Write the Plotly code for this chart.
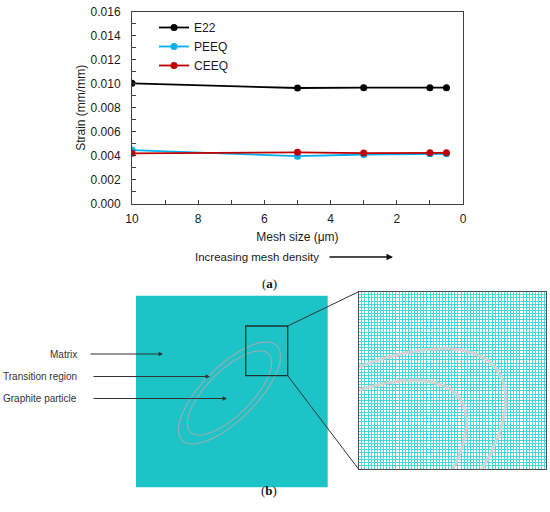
import numpy as np
import plotly.graph_objects as go

W, H = 550, 512

# (a) mesh convergence data
mesh_size = [10, 5, 3, 1, 0.5]
e22 = [0.01004, 0.00965, 0.00968, 0.00968, 0.00968]
peeq = [0.00449, 0.00398, 0.00412, 0.00418, 0.00418]
ceeq = [0.00422, 0.00430, 0.00424, 0.00426, 0.00426]

series_names = ["E22", "PEEQ", "CEEQ"]
series_colors = ["#000000", "#00B0F0", "#C00000"]

x_ticks = [10, 8, 6, 4, 2, 0]
y_ticks = [0.000, 0.002, 0.004, 0.006, 0.008, 0.010, 0.012, 0.014, 0.016]

FONT = "Liberation Sans, Arial, sans-serif"
SERIF = "Liberation Serif, Times New Roman, serif"


def px(x):
    return x / W


def py(y):
    return 1 - y / H


fig = go.Figure()

for name, vals, col in zip(series_names, [e22, peeq, ceeq], series_colors):
    fig.add_trace(go.Scatter(
        x=mesh_size, y=vals, name=name, mode="lines+markers",
        line=dict(color=col, width=1.8),
        marker=dict(color=col, size=7),
        xaxis="x", yaxis="y", hoverinfo="skip",
    ))

# (b) mesh illustration, drawn in pixel coordinates
sq = dict(x0=136, x1=327.7, y0=295.7, y1=487.3)      # left model
zoom_box = dict(x0=245.7, x1=287.7, y0=326, y1=375.7)  # box drawn on the model
view = dict(x0=247.5, x1=289.5, y0=326, y1=375.7)      # region shown enlarged
right = dict(x0=358.7, x1=545.7, y0=291.7, y1=469.3)  # enlarged mesh

# particle outline (outer = transition region, inner = graphite)
cx, cy, theta = 229.5, 393, np.radians(45)
t = np.linspace(0, 2 * np.pi, 500)
ellipses = []
for a, b in [(67, 26.9), (55.4, 22.3)]:
    ex = cx + a * np.cos(t) * np.cos(theta) + b * np.sin(t) * np.sin(theta)
    ey = cy - a * np.cos(t) * np.sin(theta) + b * np.sin(t) * np.cos(theta)
    ellipses.append((ex, ey))

for ex, ey in ellipses:
    fig.add_trace(go.Scatter(x=ex, y=ey, mode="lines", showlegend=False,
                             line=dict(color="rgba(160,172,172,0.95)", width=1.1),
                             xaxis="x2", yaxis="y2", hoverinfo="skip"))
    fig.add_trace(go.Scatter(x=ex, y=ey, mode="lines", showlegend=False,
                             line=dict(color="#d2d2d2", width=3),
                             xaxis="x3", yaxis="y3", hoverinfo="skip"))

pitch = 3.1
nx = (right["x1"] - right["x0"]) / pitch
ny = (right["y1"] - right["y0"]) / pitch
dx_grid = (view["x1"] - view["x0"]) / nx
dy_grid = (view["y1"] - view["y0"]) / ny

axis_off = dict(showticklabels=False, ticks="", zeroline=False)

fig.update_layout(
    width=W, height=H,
    margin=dict(l=0, r=0, t=0, b=0),
    paper_bgcolor="white", plot_bgcolor="white",
    font=dict(family=FONT, size=12, color="#1a1a1a"),
    showlegend=True,
    legend=dict(x=px(154), y=py(13), xanchor="left", yanchor="top",
                bgcolor="rgba(0,0,0,0)", font=dict(size=12),
                itemwidth=30),
    xaxis=dict(
        domain=[px(132), px(463)], range=[10, 0], anchor="y",
        tickvals=x_ticks, ticks="inside", ticklen=4, tickcolor="#404040",
        minor=dict(dtick=1, ticks="inside", ticklen=4, tickcolor="#404040"),
        showline=True, linecolor="#404040", linewidth=1, mirror=True,
        showgrid=False, zeroline=False, automargin=False,
        ticklabelstandoff=4,
        title=dict(text="Mesh size (μm)", standoff=7, font=dict(size=12)),
    ),
    yaxis=dict(
        domain=[py(204), py(11.7)], range=[0, 0.016], anchor="x",
        tickvals=y_ticks, tickformat=".3f", ticks="inside", ticklen=4,
        tickcolor="#404040",
        minor=dict(dtick=0.001, ticks="inside", ticklen=4, tickcolor="#404040"),
        showline=True, linecolor="#404040", linewidth=1, mirror=True,
        showgrid=False, zeroline=False, automargin=False,
        ticklabelstandoff=8,
        title=dict(text="Strain (mm/mm)", standoff=2, font=dict(size=12)),
    ),
    xaxis2=dict(domain=[px(sq["x0"]), px(sq["x1"])], range=[sq["x0"], sq["x1"]],
                anchor="y2", showgrid=False, showline=False, **axis_off),
    yaxis2=dict(domain=[py(sq["y1"]), py(sq["y0"])], range=[sq["y1"], sq["y0"]],
                anchor="x2", showgrid=False, showline=False, **axis_off),
    xaxis3=dict(domain=[px(right["x0"]), px(right["x1"])],
                range=[view["x0"], view["x1"]], anchor="y3",
                tick0=view["x0"], dtick=dx_grid,
                showgrid=True, gridcolor="#4ad8db", gridwidth=0.6,
                showline=True, linecolor="#505050", linewidth=1, mirror=True,
                **axis_off),
    yaxis3=dict(domain=[py(right["y1"]), py(right["y0"])],
                range=[view["y1"], view["y0"]], anchor="x3",
                tick0=view["y0"], dtick=dy_grid,
                showgrid=True, gridcolor="#4ad8db", gridwidth=0.6,
                showline=True, linecolor="#505050", linewidth=1, mirror=True,
                **axis_off),
)

shapes = [
    # teal model background
    dict(type="rect", xref="x2 domain", yref="y2 domain", x0=0, x1=1, y0=0, y1=1,
         fillcolor="#1cc4c7", line=dict(width=0), layer="below"),
    # enlarged region box
    dict(type="rect", xref="x2", yref="y2", x0=zoom_box["x0"], x1=zoom_box["x1"],
         y0=zoom_box["y0"], y1=zoom_box["y1"], line=dict(color="#1e3434", width=1.3)),
    # connector lines to enlarged view
    dict(type="line", xref="paper", yref="paper",
         x0=px(zoom_box["x1"]), y0=py(zoom_box["y0"]),
         x1=px(right["x0"]), y1=py(right["y0"]), line=dict(color="#333333", width=1)),
    dict(type="line", xref="paper", yref="paper",
         x0=px(zoom_box["x1"]), y0=py(zoom_box["y1"]),
         x1=px(right["x0"]), y1=py(right["y1"]), line=dict(color="#333333", width=1)),
]
fig.update_layout(shapes=shapes)

annotations = []
# region labels with arrows
labels = [("Matrix", 354, 89, 163), ("Transition region", 376.5, 92, 210),
          ("Graphite particle", 398.5, 92, 227)]
for text, yy, tail, head in labels:
    annotations.append(dict(text=text, x=px(79), y=py(yy), xref="paper", yref="paper",
                            xanchor="right", yanchor="middle", showarrow=False,
                            font=dict(size=10, color="#333333")))
    annotations.append(dict(text="", x=px(head), y=py(yy), xref="paper", yref="paper",
                            ax=tail - head, ay=0, showarrow=True, arrowhead=2,
                            arrowsize=0.8, arrowwidth=1.1, arrowcolor="#333333"))

annotations += [
    dict(text="Increasing mesh density", x=px(193), y=py(257), xref="paper", yref="paper",
         xanchor="left", yanchor="middle", showarrow=False, font=dict(size=11.5)),
    dict(text="", x=px(393), y=py(257), xref="paper", yref="paper", ax=328 - 393, ay=0,
         showarrow=True, arrowhead=2, arrowsize=1, arrowwidth=1.3, arrowcolor="#111111"),
    dict(text="(<b>a</b>)", x=px(269), y=py(283), xref="paper", yref="paper",
         showarrow=False, font=dict(family=SERIF, size=13, color="#111111")),
    dict(text="(<b>b</b>)", x=px(269), y=py(500), xref="paper", yref="paper",
         showarrow=False, font=dict(family=SERIF, size=13, color="#111111")),
]
fig.update_layout(annotations=annotations)

# the page's default body margin would push the figure 8 px off its place
fig.write_html("out.html", config=dict(displayModeBar=False),
               post_script="document.body.style.margin = '0px';")
